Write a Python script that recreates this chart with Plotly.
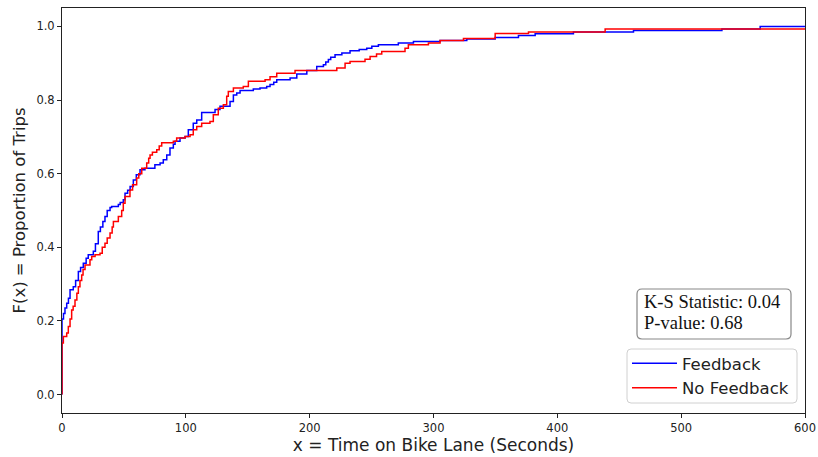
import plotly.graph_objects as go

# ---- data ----
feedback_x = [0, 0, 1.2, 2.4, 3.8, 5.2, 6.5, 9.1, 11, 13.2, 15, 17.2, 19.5, 21.2, 25.3, 27, 29.3, 31, 33,
              34.7, 36.5, 38.8, 40.1, 45.5, 47, 49.5, 50.9, 53, 55, 57.6, 60, 63, 67, 75, 79.2, 81.8, 84.6,
              87.2, 89.9, 91.3, 95.3, 99.4, 102, 106, 108.8, 112.8, 123.6, 127.6, 135.7, 138.4, 141.1,
              143.8, 154.5, 159.9, 165.3, 168, 171, 173.4, 184.2, 189.6, 197.7, 205.7, 211.1, 213, 215.1,
              217, 220.5, 226, 232.6, 240, 246.1, 250.2, 255.5, 271.6, 283.8, 305.3, 326.9, 349.8, 368.6,
              382.1, 413, 461.5, 532.9, 563.8, 610]
feedback_F = [0, 0.205, 0.22, 0.235, 0.248, 0.262, 0.285, 0.293, 0.31, 0.334, 0.345, 0.357, 0.37, 0.38,
              0.389, 0.41, 0.443, 0.455, 0.47, 0.484, 0.5, 0.508, 0.511, 0.516, 0.522, 0.529, 0.547, 0.555,
              0.565, 0.583, 0.597, 0.611, 0.615, 0.624, 0.629, 0.638, 0.651, 0.67, 0.68, 0.688, 0.697,
              0.701, 0.719, 0.737, 0.746, 0.766, 0.774, 0.783, 0.796, 0.814, 0.819, 0.826, 0.83, 0.833,
              0.837, 0.842, 0.848, 0.855, 0.86, 0.871, 0.88, 0.891, 0.896, 0.903, 0.91, 0.916, 0.923,
              0.928, 0.934, 0.937, 0.941, 0.946, 0.95, 0.955, 0.959, 0.962, 0.966, 0.97, 0.975, 0.98,
              0.985, 0.989, 0.993, 1.0, 1.0]

nofeedback_x = [0, 0, 1.1, 3.8, 5.1, 6.5, 7.8, 9, 10.5, 12, 13.2, 14.5, 15.9, 17, 18.6, 22.6, 24, 26.7,
                30.7, 32.5, 34.7, 36.5, 38.8, 40.5, 41.5, 45.5, 48.2, 49.5, 50.9, 54.9, 57, 60.3, 62,
                64.4, 68.4, 70, 71.1, 73, 76.5, 78.5, 80.5, 89.9, 92.6, 99.4, 103.4, 106, 108.8, 112.8,
                119.5, 122.2, 126.2, 130.3, 133, 134.3, 138.4, 146.4, 150.5, 164, 168, 173.4, 188.2,
                221.9, 228.6, 232.6, 244.7, 248.8, 254, 258.2, 277, 279.7, 295.9, 305.3, 324.2, 349.8,
                376.7, 438.6, 610]
nofeedback_F = [0, 0.14, 0.158, 0.167, 0.185, 0.205, 0.23, 0.24, 0.257, 0.275, 0.293, 0.31, 0.325, 0.34,
                0.352, 0.366, 0.375, 0.38, 0.384, 0.4, 0.411, 0.425, 0.439, 0.455, 0.47, 0.484, 0.5, 0.52,
                0.538, 0.556, 0.57, 0.588, 0.6, 0.615, 0.629, 0.642, 0.651, 0.658, 0.665, 0.675, 0.684,
                0.688, 0.697, 0.701, 0.706, 0.719, 0.728, 0.737, 0.742, 0.76, 0.778, 0.787, 0.81, 0.823,
                0.833, 0.837, 0.851, 0.855, 0.863, 0.873, 0.88, 0.887, 0.9, 0.905, 0.911, 0.918, 0.925,
                0.932, 0.941, 0.95, 0.955, 0.962, 0.967, 0.981, 0.985, 0.993, 0.993]

x_ticks = [0, 100, 200, 300, 400, 500, 600]
y_ticks = [0.0, 0.2, 0.4, 0.6, 0.8, 1.0]
ks_lines = ["K-S Statistic: 0.04", "P-value: 0.68"]

# ---- layout geometry (pixels) ----
W, H = 818, 457
ML, MR, MT, MB = 62, 13, 8, 44
PW, PH = W - ML - MR, H - MT - MB


def px2paper(x, y):
    return (x - ML) / PW, (H - MB - y) / PH


def rounded_rect(x0, y0, x1, y1, r):
    rx, ry = r / PW, r / PH
    a0, b1 = px2paper(x0, y0)
    a1, b0 = px2paper(x1, y1)
    return (f"M {a0+rx},{b1} L {a1-rx},{b1} Q {a1},{b1} {a1},{b1-ry} "
            f"L {a1},{b0+ry} Q {a1},{b0} {a1-rx},{b0} L {a0+rx},{b0} "
            f"Q {a0},{b0} {a0},{b0+ry} L {a0},{b1-ry} Q {a0},{b1} {a0+rx},{b1} Z")


fig = go.Figure()
fig.add_trace(go.Scatter(x=feedback_x, y=feedback_F, mode="lines", name="Feedback",
                         line=dict(color="#0000ff", width=1.5, shape="hv")))
fig.add_trace(go.Scatter(x=nofeedback_x, y=nofeedback_F, mode="lines", name="No Feedback",
                         line=dict(color="#ff0000", width=1.5, shape="hv")))

axis_common = dict(showgrid=False, zeroline=False, showline=True, linecolor="#222",
                   linewidth=1, mirror=True, ticks="outside", ticklen=4, tickwidth=1,
                   tickcolor="#222", tickfont=dict(family="DejaVu Sans", size=11.5, color="#222"))

fig.update_xaxes(range=[0, 600], tickvals=x_ticks, ticktext=[str(v) for v in x_ticks],
                 title=dict(text="x = Time on Bike Lane (Seconds)",
                            font=dict(family="DejaVu Sans", size=17, color="#222"), standoff=3),
                 **axis_common)
fig.update_yaxes(range=[-0.05, 1.05], tickvals=y_ticks, ticktext=[f"{v:.1f}" for v in y_ticks],
                 title=dict(text="F(x) = Proportion of Trips",
                            font=dict(family="DejaVu Sans", size=16.5, color="#222"), standoff=6),
                 **axis_common)

lx0, ly0 = px2paper(627, 346)
fig.update_layout(
    width=W, height=H,
    margin=dict(l=ML, r=MR, t=MT, b=MB, autoexpand=False),
    paper_bgcolor="white", plot_bgcolor="white",
    showlegend=True,
    legend=dict(x=lx0, y=ly0, xanchor="left", yanchor="top",
                bgcolor="rgba(0,0,0,0)", borderwidth=0, itemwidth=45,
                font=dict(family="DejaVu Sans", size=16.5, color="#222"),
                tracegroupgap=0),
    shapes=[
        dict(type="path", xref="paper", yref="paper", path=rounded_rect(627, 349, 797, 403, 4),
             line=dict(color="#d0d0d0", width=1), fillcolor="rgba(255,255,255,0.8)", layer="above"),
        dict(type="path", xref="paper", yref="paper", path=rounded_rect(637, 289, 791, 339, 5),
             line=dict(color="#888", width=1.2), fillcolor="white", layer="above"),
    ],
)

for txt, cy in zip(ks_lines, [302, 323]):
    ax, ay = px2paper(642, cy)
    fig.add_annotation(xref="paper", yref="paper", x=ax, y=ay, xanchor="left", yanchor="middle",
                       text=txt, showarrow=False, align="left",
                       font=dict(family="Liberation Serif", size=18.5, color="#111"))

fig.write_html("out.html", config={"displayModeBar": False},
               post_script="document.body.style.margin='0';document.body.style.padding='0';")
